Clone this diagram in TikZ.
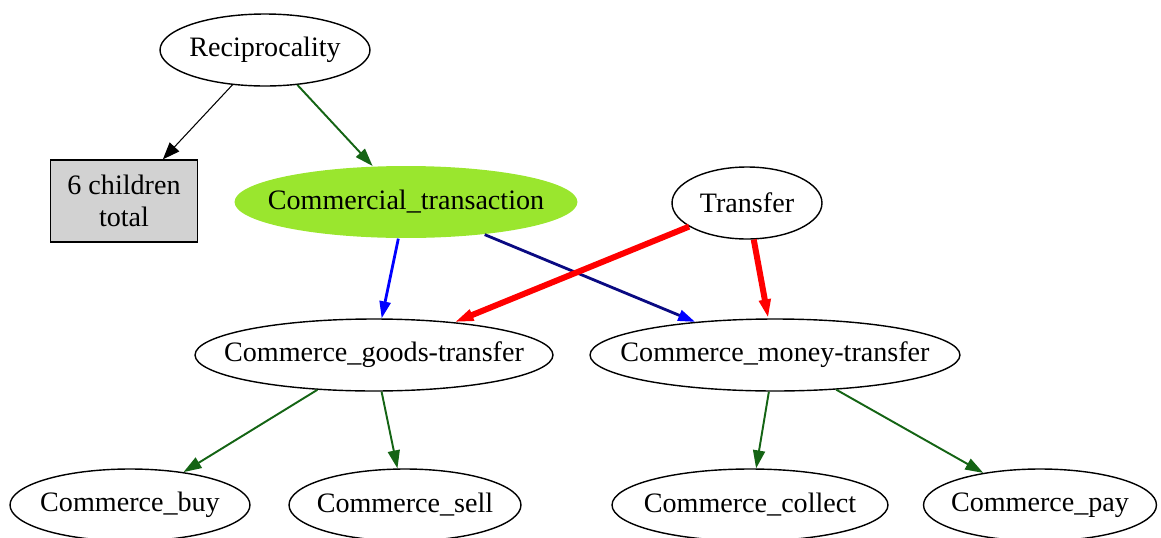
\documentclass[tikz,border=0pt]{standalone}
\usepackage{fontspec}
\setmainfont{Liberation Serif}
\usepackage{tikz}
\usetikzlibrary{arrows.meta, shapes.geometric}

\definecolor{framegreen}{RGB}{154,230,46}
\definecolor{edgegreen}{RGB}{20,100,20}
\definecolor{edgenavy}{RGB}{10,10,130}

\begin{document}
\begin{tikzpicture}[
    x=0.02cm, y={(0cm,-0.02cm)},
    frame/.style={ellipse, draw, line width=0.8pt, inner xsep=-3cm, inner ysep=0pt, minimum height=1.44cm, font=\fontsize{16}{19}\selectfont},
    more/.style={rectangle, draw, line width=0.8pt, fill=gray!35, minimum width=2.94cm, minimum height=1.64cm, align=center, font=\fontsize{16}{18}\selectfont},
    inherit/.style={-{Triangle[length=0.36cm, width=0.24cm]}, line width=1.1pt, edgegreen},
    plain/.style={-{Triangle[length=0.34cm, width=0.26cm]}, line width=0.6pt, black},
    using/.style={-{Triangle[length=0.34cm, width=0.22cm]}, line width=1.6pt},
    subframe/.style={-{Triangle[length=0.38cm, width=0.22cm]}, line width=3.4pt, red}
]
\useasboundingbox (0,0) rectangle (1161,538);

% Top
\node[frame, minimum width=4.2cm] (recip) at (265, 50) {Reciprocality};
\node[more] (children) at (124, 201) {6 children\\total};

% Middle row
\node[frame, draw=none, fill=framegreen, minimum width=6.86cm] (commtrans) at (406, 202) {Commercial\_transaction};
\node[frame, minimum width=3.0cm] (transfer) at (747, 203) {Transfer};

% Transfer frames
\node[frame, minimum width=7.16cm] (goods) at (374, 355) {Commerce\_goods-transfer};
\node[frame, minimum width=7.4cm] (money) at (775, 355) {Commerce\_money-transfer};

% Bottom row
\node[frame, minimum width=4.8cm] (buy) at (130, 505) {Commerce\_buy};
\node[frame, minimum width=4.64cm] (sell) at (405, 505) {Commerce\_sell};
\node[frame, minimum width=5.52cm] (collect) at (750, 505) {Commerce\_collect};
\node[frame, minimum width=4.66cm] (pay) at (1040, 505) {Commerce\_pay};

% Arrows - Reciprocality
\draw[plain] (recip) -- (children);
\draw[inherit] (recip) -- (commtrans);

% Arrows - Commercial_transaction
\draw[using, blue] (commtrans) -- (goods);
\draw[using, edgenavy, -{Triangle[length=0.34cm, width=0.22cm, color=blue]}] (commtrans) -- (money);

% Arrows - Transfer
\draw[subframe] (transfer) -- (goods);
\draw[subframe] (transfer) -- (money);

% Arrows - to bottom row
\draw[inherit] (goods) -- (buy);
\draw[inherit] (goods) -- (sell);
\draw[inherit] (money) -- (collect);
\draw[inherit] (money) -- (pay);

\end{tikzpicture}
\end{document}
